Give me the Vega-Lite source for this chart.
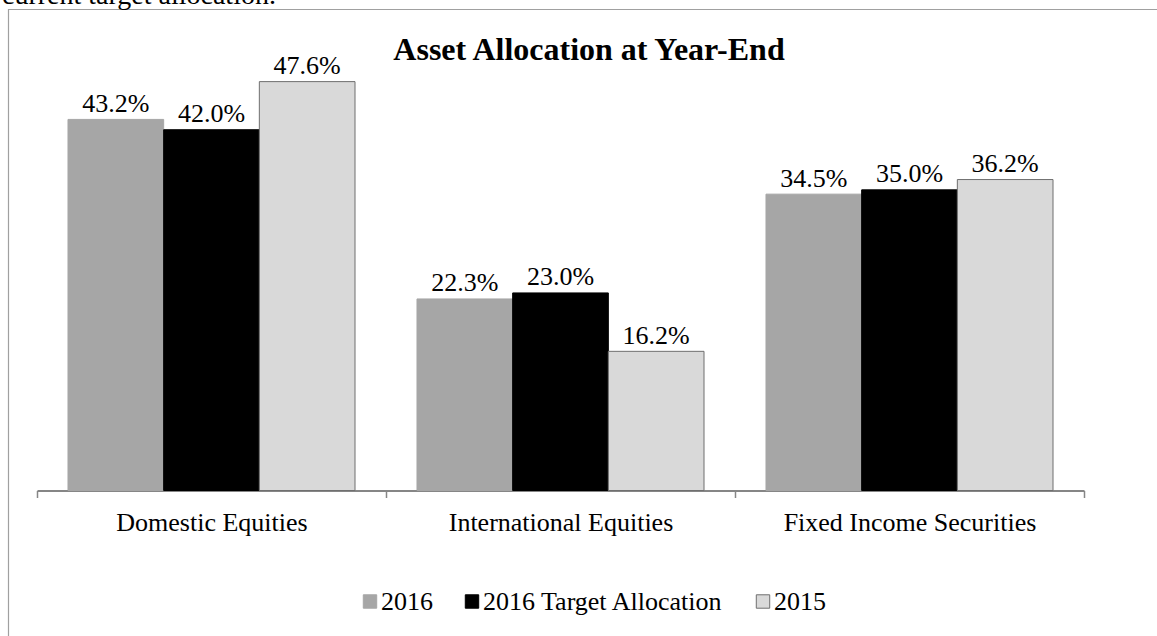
{
  "$schema": "https://vega.github.io/schema/vega-lite/v6.json",
  "autosize": {"type": "none"},
  "width": 1047,
  "height": 429.5,
  "padding": {"left": 37, "top": 61, "right": 73, "bottom": 145.5},
  "background": "white",
  "config": {
    "view": {"stroke": null},
    "font": "Liberation Serif"
  },
  "data": {
    "values": [
      {"category": "Domestic Equities", "series": "2016", "value": 0.432},
      {"category": "Domestic Equities", "series": "2016 Target Allocation", "value": 0.42},
      {"category": "Domestic Equities", "series": "2015", "value": 0.476},
      {"category": "International Equities", "series": "2016", "value": 0.223},
      {"category": "International Equities", "series": "2016 Target Allocation", "value": 0.23},
      {"category": "International Equities", "series": "2015", "value": 0.162},
      {"category": "Fixed Income Securities", "series": "2016", "value": 0.345},
      {"category": "Fixed Income Securities", "series": "2016 Target Allocation", "value": 0.35},
      {"category": "Fixed Income Securities", "series": "2015", "value": 0.362}
    ]
  },
  "layer": [
    {
      "data": {"values": [{"note": "frame"}]},
      "mark": {"type": "rect", "fill": null, "stroke": "#a0a0a0", "strokeWidth": 1.2, "clip": false},
      "encoding": {
        "x": {"value": -28.5},
        "y": {"value": -51.5},
        "x2": {"value": 1160},
        "y2": {"value": 620}
      }
    },
    {
      "data": {"values": [{"note": "current target allocation."}]},
      "mark": {"type": "text", "font": "Liberation Serif", "fontSize": 28, "align": "left", "baseline": "alphabetic", "color": "black"},
      "encoding": {
        "x": {"value": -35},
        "y": {"value": -57},
        "text": {"field": "note"}
      }
    },
    {
      "data": {"values": [{"heading": "Asset Allocation at Year-End"}]},
      "mark": {"type": "text", "font": "Liberation Serif", "fontSize": 32, "fontWeight": "bold", "align": "center", "baseline": "alphabetic", "color": "black"},
      "encoding": {
        "x": {"value": 552},
        "y": {"value": -1},
        "text": {"field": "heading"}
      }
    },
    {
      "mark": {"type": "bar", "strokeWidth": 1},
      "encoding": {
        "x": {
          "field": "category",
          "type": "nominal",
          "sort": ["Domestic Equities", "International Equities", "Fixed Income Securities"],
          "scale": {"paddingInner": 0, "paddingOuter": 0},
          "axis": {
            "title": null,
            "labelAngle": 0,
            "labelFont": "Liberation Serif",
            "labelFontSize": 26,
            "labelColor": "black",
            "labelLimit": 0,
            "labelPadding": 12,
            "tickSize": 7,
            "tickWidth": 1.5,
            "tickColor": "#868686",
            "tickBand": "extent",
            "domainColor": "#868686",
            "domainWidth": 2,
            "grid": false
          }
        },
        "xOffset": {
          "field": "series",
          "type": "nominal",
          "sort": ["2016", "2016 Target Allocation", "2015"],
          "scale": {"paddingInner": 0, "paddingOuter": 0.324}
        },
        "y": {
          "field": "value",
          "type": "quantitative",
          "scale": {"domain": [0, 0.5], "nice": false},
          "axis": null
        },
        "fill": {
          "field": "series",
          "type": "nominal",
          "sort": ["2016", "2016 Target Allocation", "2015"],
          "scale": {"domain": ["2016", "2016 Target Allocation", "2015"], "range": ["#a6a6a6", "#000000", "#d9d9d9"]},
          "legend": {
            "title": null,
            "orient": "none",
            "direction": "horizontal",
            "legendX": 320,
            "legendY": 527.5,
            "padding": 0,
            "columnPadding": 26,
            "labelOffset": -2,
            "labelLimit": 0,
            "labelFont": "Liberation Serif",
            "labelFontSize": 26,
            "labelColor": "black",
            "symbolType": "square",
            "symbolSize": 180,
            "symbolStrokeWidth": 1
          }
        },
        "stroke": {
          "field": "series",
          "type": "nominal",
          "sort": ["2016", "2016 Target Allocation", "2015"],
          "scale": {"domain": ["2016", "2016 Target Allocation", "2015"], "range": ["#a6a6a6", "#000000", "#6f6f6f"]},
          "legend": null
        }
      }
    },
    {
      "mark": {"type": "text", "font": "Liberation Serif", "fontSize": 26, "baseline": "alphabetic", "align": "center", "dy": -7.5, "color": "black"},
      "encoding": {
        "x": {
          "field": "category",
          "type": "nominal",
          "sort": ["Domestic Equities", "International Equities", "Fixed Income Securities"]
        },
        "xOffset": {
          "field": "series",
          "type": "nominal",
          "sort": ["2016", "2016 Target Allocation", "2015"]
        },
        "y": {"field": "value", "type": "quantitative"},
        "text": {"field": "value", "type": "quantitative", "format": ".1%"}
      }
    }
  ]
}
